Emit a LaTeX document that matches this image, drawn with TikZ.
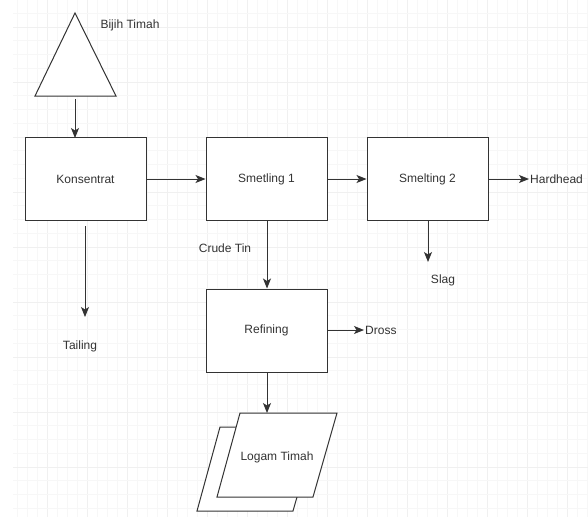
\documentclass[tikz,border=0pt]{standalone}
\usepackage{fontspec}
\setmainfont{Liberation Sans}
\usetikzlibrary{arrows.meta}
\definecolor{ink}{HTML}{333333}
\begin{document}
\begin{tikzpicture}[x=1pt,y=-1pt,
  font=\fontsize{12}{14}\selectfont,
  every node/.style={text=ink},
  procbox/.style={draw=ink,line width=1pt,fill=white,minimum width=121pt,minimum height=83pt,inner sep=0pt},
  lbl/.style={inner sep=1pt},
  flow/.style={draw=ink,line width=1pt,-{Stealth[length=10pt,width=8pt,inset=2.5pt]}},
  shapeline/.style={draw=ink,line width=1pt,fill=white,line join=miter}]
\useasboundingbox (0,0) rectangle (588,517);
\fill[white] (0,0) rectangle (588,517);
% grid
\foreach \gx in {17,27,...,587} {\draw[gray!6,line width=0.6pt] (\gx,0) -- (\gx,517);}
\foreach \gx in {47,87,...,587} {\draw[gray!12,line width=0.6pt] (\gx,0) -- (\gx,517);}
\foreach \k in {-5,...,31} {\draw[gray!6,line width=0.6pt] (13,82+13.75*\k) -- (588,82+13.75*\k);}
\foreach \k in {-1,...,7} {\draw[gray!12,line width=0.6pt] (13,82+55*\k) -- (588,82+55*\k);}
% triangle
\draw[shapeline] (75,13) -- (116,96) -- (35,96) -- cycle;
\coordinate (tri) at (75,99);
\node[lbl] (bijih) at (130,25) {Bijih Timah};
% boxes
\node[procbox] (kons) at (85.5,179) {Konsentrat};
\node[procbox] (sm1) at (266.5,179) {Smetling 1};
\node[procbox] (sm2) at (427.5,179) {Smelting 2};
\node[procbox] (ref) at (266.5,330.5) {Refining};
% parallelograms
\draw[shapeline] (220,427) -- (317,427) -- (293,511) -- (197,511) -- cycle;
\draw[shapeline] (240,413) -- (337,413) -- (313,497) -- (217,497) -- cycle;
\node (logam) at (277,457) {Logam Timah};
\coordinate (logtop) at (267,413);
% labels
\node[lbl] (tail) at (80,346) {Tailing};
\node[lbl] (crude) at (225,248) {Crude Tin};
\node[lbl] (slag) at (443,280) {Slag};
\node[lbl,anchor=west] (hard) at (529,179) {Hardhead};
\node[lbl,anchor=west] (dross) at (364,330) {Dross};
\coordinate (tailend) at (85,317);
\coordinate (slagend) at (428,262);
% connectors
\draw[flow] (tri) -- (75,138);
\draw[flow] (kons.east) -- (sm1.west);
\draw[flow] (sm1.east) -- (sm2.west);
\draw[flow] (sm2.east |- hard.west) -- (hard.west);
\draw[flow] ([yshift=-5pt]kons.south -| tailend) -- (tailend);
\draw[flow] (sm2.south -| slagend) -- (slagend);
\draw[flow] (sm1.south -| logtop) -- (ref.north -| logtop);
\draw[flow] (ref.east |- dross.west) -- (dross.west);
\draw[flow] (ref.south -| logtop) -- (logtop);
\end{tikzpicture}
\end{document}
